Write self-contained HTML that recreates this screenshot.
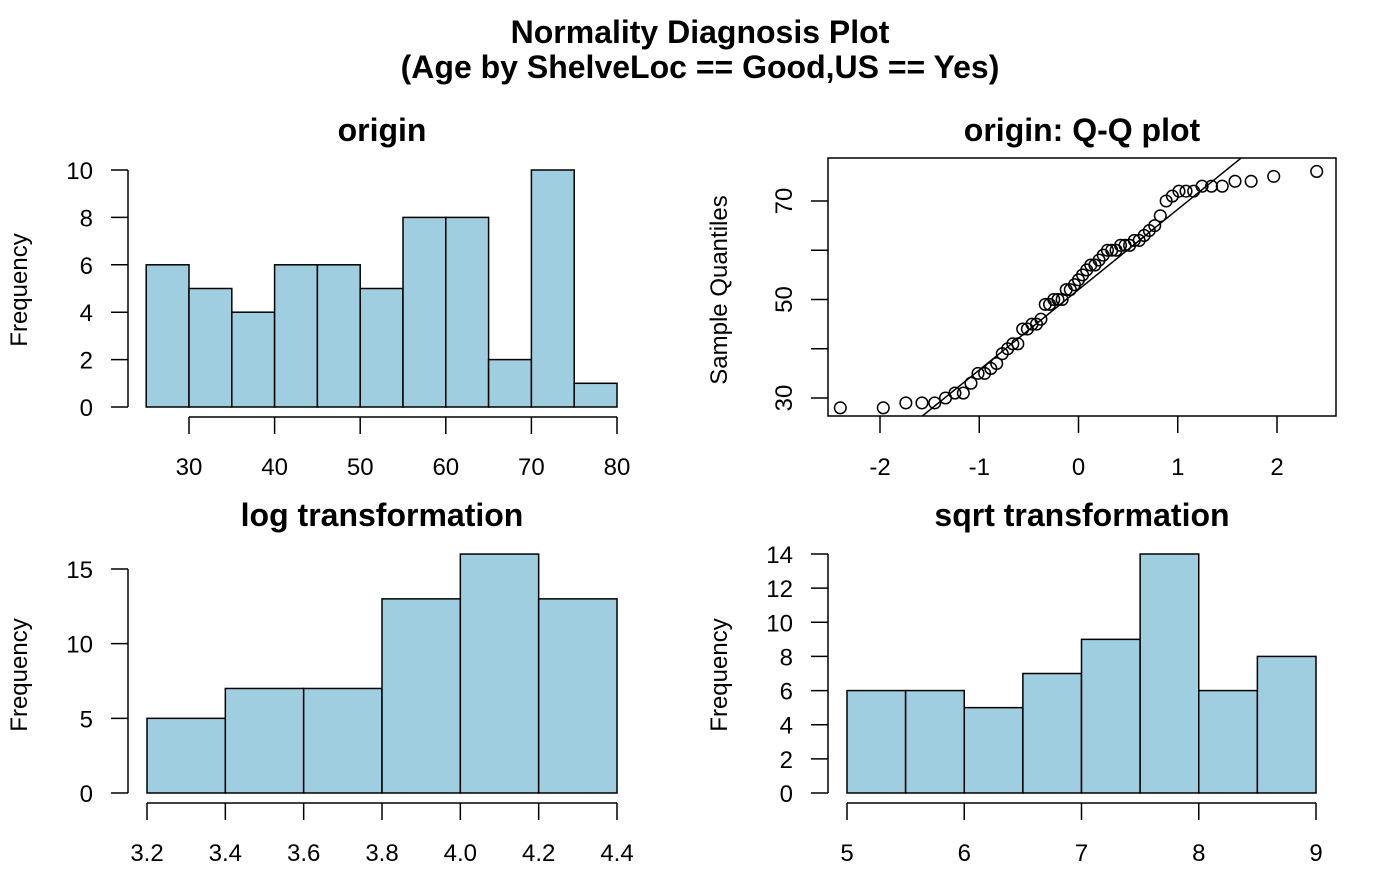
<!DOCTYPE html>
<html><head><meta charset="utf-8"><style>
body{margin:0;background:#fff}
text{font-family:"Liberation Sans",Arial,sans-serif;fill:#000}
</style></head><body>
<svg id="s" width="1400" height="866" xmlns="http://www.w3.org/2000/svg">
<text x="700" y="43" font-size="32" font-weight="bold" text-anchor="middle">Normality Diagnosis Plot</text>
<text x="700" y="78" font-size="32" font-weight="bold" text-anchor="middle">(Age by ShelveLoc == Good,US == Yes)</text>
</svg>
<script>
const originCounts=[6,5,4,6,6,5,8,8,2,10,1];
const originBreaks=[25,30,35,40,45,50,55,60,65,70,75,80];
const logCounts=[5,7,7,13,16,13];
const logBreaks=[3.2,3.4,3.6,3.8,4.0,4.2,4.4];
const sqrtCounts=[6,6,5,7,9,14,6,8];
const sqrtBreaks=[5,5.5,6,6.5,7,7.5,8,8.5,9];
const ages=[28,28,29,29,29,30,31,31,33,35,35,36,37,39,40,41,41,44,44,45,45,46,49,49,50,50,50,52,52,53,54,55,56,57,57,58,59,60,60,60,61,61,61,62,62,63,64,65,67,70,71,72,72,72,73,73,73,74,74,75,76];
const originXTicks=[30,40,50,60,70,80], originYTicks=[0,2,4,6,8,10];
const logXTicks=["3.2","3.4","3.6","3.8","4.0","4.2","4.4"], logYTicks=[0,5,10,15];
const sqrtXTicks=[5,6,7,8,9], sqrtYTicks=[0,2,4,6,8,10,12,14];
const qqXTicks=[-2,-1,0,1,2], qqYTicks=[30,40,50,60,70], qqYLabels=[30,50,70];

const svg=document.getElementById('s');const NS="http://www.w3.org/2000/svg";
const FS=24,TS=32;
function el(t,a,txt){const e=document.createElementNS(NS,t);for(const k in a)e.setAttribute(k,a[k]);if(txt!==undefined)e.textContent=txt;svg.appendChild(e);return e;}
function lin(d0,d1,r0,r1){return v=>r0+(v-d0)*(r1-r0)/(d1-d0);}

function hist(o){
  const X=lin(o.xd[0],o.xd[1],o.xr[0],o.xr[1]),Y=lin(0,o.ymax,o.y0,o.ytop);
  let t=el('text',{x:o.tx,y:o.ty,'font-size':TS,'font-weight':'bold','text-anchor':'middle'},o.title);
  
  
  o.counts.forEach((c,i)=>{
    const x0=X(o.breaks[i]),x1=X(o.breaks[i+1]);
    const r=el('rect',{x:x0,y:Y(c),width:x1-x0,height:Y(0)-Y(c),fill:'#9fcee0',stroke:'#000','stroke-width':1.5});
    
    
  });
  const ax=o.axX;
  const yt=o.yticks;
  let l=el('line',{x1:ax,x2:ax,y1:Y(yt[0]),y2:Y(yt[yt.length-1]),stroke:'#000','stroke-width':1.5});
  
  
  yt.forEach(v=>{el('line',{x1:ax-17,x2:ax,y1:Y(v),y2:Y(v),stroke:'#000','stroke-width':1.5});
    const tt=el('text',{x:ax-35,y:Y(v)+9,'font-size':FS,'text-anchor':'end'},v);
    
    });
  const ay=o.y0+10;
  const xt=o.xticks;
  l=el('line',{x1:X(+xt[0]),x2:X(+xt[xt.length-1]),y1:ay,y2:ay,stroke:'#000','stroke-width':1.5});
  
  
  xt.forEach(v=>{el('line',{x1:X(+v),x2:X(+v),y1:ay,y2:ay+17,stroke:'#000','stroke-width':1.5});
    const tt=el('text',{x:X(+v),y:ay+58,'font-size':FS,'text-anchor':'middle'},v);
    
    });
  const yl=el('text',{x:0,y:0,'font-size':FS,'text-anchor':'middle',transform:`translate(${o.axX-101},${o.ymid}) rotate(-90)`},'Frequency');
  
  
}
hist({name:'origin',title:'origin',tx:382,ty:141,counts:originCounts,breaks:originBreaks,xd:[30,80],xr:[189,617],ymax:10,y0:407,ytop:170,axX:128,ymid:290,yticks:originYTicks,xticks:originXTicks});
hist({name:'log',title:'log transformation',tx:382,ty:526,counts:logCounts,breaks:logBreaks,xd:[3.2,4.4],xr:[147,617],ymax:15,y0:793,ytop:569,axX:128,ymid:675,yticks:logYTicks,xticks:logXTicks});
hist({name:'sqrt',title:'sqrt transformation',tx:1082,ty:526,counts:sqrtCounts,breaks:sqrtBreaks,xd:[5,9],xr:[847,1316],ymax:14,y0:793,ytop:554,axX:828,ymid:675,yticks:sqrtYTicks,xticks:sqrtXTicks});
function qnorm(p){const a=[-39.6968302866538,220.946098424521,-275.928510446969,138.357751867269,-30.6647980661472,2.50662827745924],b=[-54.4760987982241,161.585836858041,-155.698979859887,66.8013118877197,-13.2806815528857],c=[-0.00778489400243029,-0.322396458041136,-2.40075827716184,-2.54973253934373,4.37466414146497,2.93816398269878],d=[0.00778469570904146,0.32246712907004,2.445134137143,3.75440866190742];let q,r;
 if(p<0.02425){q=Math.sqrt(-2*Math.log(p));return(((((c[0]*q+c[1])*q+c[2])*q+c[3])*q+c[4])*q+c[5])/((((d[0]*q+d[1])*q+d[2])*q+d[3])*q+1);}
 if(p>1-0.02425){q=Math.sqrt(-2*Math.log(1-p));return-(((((c[0]*q+c[1])*q+c[2])*q+c[3])*q+c[4])*q+c[5])/((((d[0]*q+d[1])*q+d[2])*q+d[3])*q+1);}
 q=p-0.5;r=q*q;return(((((a[0]*r+a[1])*r+a[2])*r+a[3])*r+a[4])*r+a[5])*q/(((((b[0]*r+b[1])*r+b[2])*r+b[3])*r+b[4])*r+1);}
const QX=lin(0,1,1078.5,1177.75),QY=lin(30,70,398,201);
const bx0=828,bx1=1336,by0=158,by1=416;
let t=el('text',{x:1082,y:141,'font-size':TS,'font-weight':'bold','text-anchor':'middle'},'origin: Q-Q plot');


const sorted=[...ages].sort((a,b)=>a-b),n=sorted.length;
function quant(p){const h=(n-1)*p,lo=Math.floor(h);return sorted[lo]+(h-lo)*(sorted[Math.min(lo+1,n-1)]-sorted[lo]);}
const slope=(quant(.75)-quant(.25))/(qnorm(.75)-qnorm(.25)),inter=quant(.25)-slope*qnorm(.25);
const cp=el('clipPath',{id:'qc'});const cr=document.createElementNS(NS,'rect');cr.setAttribute('x',bx0);cr.setAttribute('y',by0);cr.setAttribute('width',bx1-bx0);cr.setAttribute('height',by1-by0);cp.appendChild(cr);
let ln=el('line',{x1:QX(-4),y1:QY(inter-4*slope),x2:QX(4),y2:QY(inter+4*slope),stroke:'#000','stroke-width':1.5,'clip-path':'url(#qc)'});


sorted.forEach((v,i)=>{const q=qnorm((i+1-0.5)/n);
  const c=el('circle',{cx:QX(q),cy:QY(v),r:5.8,fill:'none',stroke:'#000','stroke-width':1.5});
  
  });
let bx=el('rect',{x:bx0,y:by0,width:bx1-bx0,height:by1-by0,fill:'none',stroke:'#000','stroke-width':1.5});


qqXTicks.forEach(v=>{el('line',{x1:QX(v),x2:QX(v),y1:by1,y2:by1+17,stroke:'#000','stroke-width':1.5});
  const tt=el('text',{x:QX(v),y:by1+59,'font-size':FS,'text-anchor':'middle'},v<0?'-'+(-v):v);
  
  });
qqYTicks.forEach(v=>{el('line',{x1:bx0-17,x2:bx0,y1:QY(v),y2:QY(v),stroke:'#000','stroke-width':1.5});});
qqYLabels.forEach(v=>{const tt=el('text',{x:0,y:0,'font-size':FS,'text-anchor':'middle',transform:`translate(${bx0-36},${QY(v)}) rotate(-90)`},v);
  
  });
let yl=el('text',{x:0,y:0,'font-size':FS,'text-anchor':'middle',transform:`translate(727,290) rotate(-90)`},'Sample Quantiles');


</script>
</body></html>
